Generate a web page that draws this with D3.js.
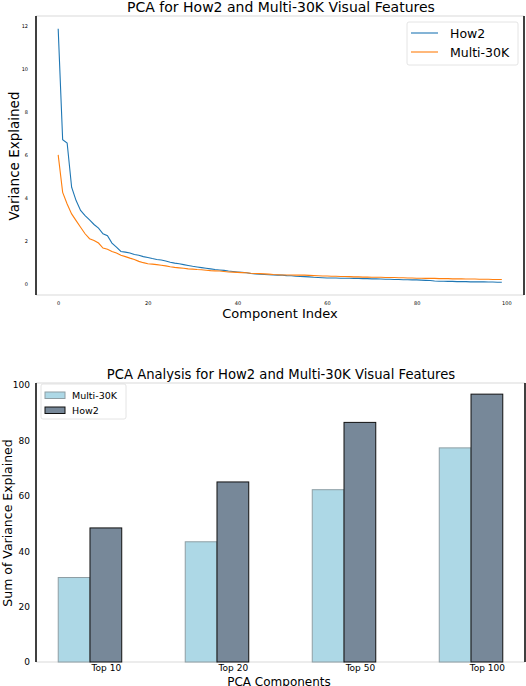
<!DOCTYPE html>
<html>
<head>
<meta charset="utf-8">
<script src="https://cdn.jsdelivr.net/npm/d3@7"></script>
<style>
  body { margin: 0; background: #fff; }
  text { font-family: "DejaVu Sans", sans-serif; fill: #000; }
</style>
</head>
<body>
<div id="chart"></div>
<script>
// line chart data: variance explained per component (index 0..99)
var how2Variance = [
  11.85, 6.70, 6.55, 4.50, 3.88, 3.42, 3.18, 2.98, 2.77, 2.60,
  2.34, 2.25, 1.91, 1.72, 1.52, 1.49, 1.45, 1.38, 1.34, 1.28,
  1.24, 1.19, 1.15, 1.12, 1.08, 1.02, 0.98, 0.95, 0.91, 0.87,
  0.83, 0.80, 0.77, 0.74, 0.71, 0.68, 0.66, 0.64, 0.61, 0.59,
  0.57, 0.55, 0.53, 0.50, 0.48, 0.46, 0.45, 0.44, 0.43, 0.42,
  0.42, 0.40, 0.39, 0.37, 0.36, 0.35, 0.34, 0.32, 0.31, 0.30,
  0.29, 0.29, 0.29, 0.28, 0.28, 0.28, 0.27, 0.27, 0.26, 0.26,
  0.25, 0.25, 0.24, 0.23, 0.23, 0.22, 0.22, 0.21, 0.21, 0.20,
  0.20, 0.19, 0.18, 0.17, 0.15, 0.14, 0.14, 0.13, 0.13, 0.12,
  0.12, 0.12, 0.11, 0.11, 0.11, 0.11, 0.10, 0.10, 0.09, 0.09
];
var multiVariance = [
  6.00, 4.26, 3.72, 3.26, 2.95, 2.64, 2.34, 2.11, 2.03, 1.91,
  1.68, 1.62, 1.52, 1.45, 1.34, 1.28, 1.21, 1.15, 1.06, 1.00,
  0.95, 0.93, 0.91, 0.88, 0.85, 0.81, 0.78, 0.76, 0.74, 0.71,
  0.70, 0.68, 0.67, 0.65, 0.63, 0.62, 0.61, 0.59, 0.57, 0.56,
  0.55, 0.54, 0.53, 0.51, 0.50, 0.49, 0.48, 0.47, 0.45, 0.44,
  0.43, 0.43, 0.43, 0.42, 0.42, 0.42, 0.41, 0.40, 0.39, 0.38,
  0.38, 0.37, 0.37, 0.36, 0.36, 0.35, 0.34, 0.34, 0.33, 0.33,
  0.32, 0.32, 0.32, 0.31, 0.31, 0.31, 0.30, 0.30, 0.29, 0.29,
  0.28, 0.28, 0.27, 0.27, 0.27, 0.26, 0.26, 0.26, 0.25, 0.25,
  0.25, 0.24, 0.24, 0.24, 0.23, 0.23, 0.23, 0.22, 0.22, 0.22
];
var lineXTicks = [0, 20, 40, 60, 80, 100];
var lineYTicks = [0, 2, 4, 6, 8, 10, 12];

// bar chart data: cumulative variance explained
var barCategories = ["Top 10", "Top 20", "Top 50", "Top 100"];
var multiSum = [30.5, 43.4, 62.2, 77.3];
var how2Sum = [48.4, 65.0, 86.5, 96.7];
var barYTicks = [0, 20, 40, 60, 80, 100];

var svgWidth = 526;
var svgHeight = 686;

var svg = d3.select("#chart")
  .append("svg")
  .attr("width", svgWidth)
  .attr("height", svgHeight);

var blue = "#1f77b4";
var orange = "#ff7f0e";

// ---------- top chart ----------
var top1 = {left: 36, right: 524, top: 16, bottom: 295};

var xLine = d3.scaleLinear()
  .domain([-4.95, 103.95])
  .range([top1.left, top1.right]);

var yLine = d3.scaleLinear()
  .domain([-0.5, 12.44])
  .range([top1.bottom, top1.top]);

function spines(box) {
  var g = svg.append("g");
  g.append("line").attr("x1", box.left).attr("x2", box.right)
    .attr("y1", box.top).attr("y2", box.top)
    .attr("stroke", "#ececec").attr("stroke-width", 2);
  g.append("line").attr("x1", box.left).attr("x2", box.right)
    .attr("y1", box.bottom).attr("y2", box.bottom)
    .attr("stroke", "#ececec").attr("stroke-width", 2);
  g.append("line").attr("x1", box.left).attr("x2", box.left)
    .attr("y1", box.top).attr("y2", box.bottom)
    .attr("stroke", "#000").attr("stroke-width", 1.5);
  g.append("line").attr("x1", box.right).attr("x2", box.right)
    .attr("y1", box.top).attr("y2", box.bottom)
    .attr("stroke", "#000").attr("stroke-width", 1.5);
}
spines(top1);

var lineXAxis = d3.axisBottom(xLine).tickValues(lineXTicks).tickSize(0).tickPadding(6);
var lineYAxis = d3.axisLeft(yLine).tickValues(lineYTicks).tickSize(0).tickPadding(8);

var gx1 = svg.append("g")
  .attr("transform", `translate(0, ${top1.bottom})`)
  .call(lineXAxis);
var gy1 = svg.append("g")
  .attr("transform", `translate(${top1.left}, 0)`)
  .call(lineYAxis);
[gx1, gy1].forEach(function(g) {
  g.select(".domain").remove();
  g.selectAll("text")
    .style("font-family", "DejaVu Sans")
    .style("font-size", "5px")
    .attr("fill", "#333");
});

var line = d3.line()
  .x((d, i) => xLine(i))
  .y(d => yLine(d));

svg.append("path")
  .datum(how2Variance)
  .attr("d", line)
  .attr("fill", "none")
  .attr("stroke", blue)
  .attr("stroke-width", 1.1);

svg.append("path")
  .datum(multiVariance)
  .attr("d", line)
  .attr("fill", "none")
  .attr("stroke", orange)
  .attr("stroke-width", 1.1);

svg.append("text")
  .attr("x", 281).attr("y", 12)
  .attr("text-anchor", "middle")
  .style("font-size", "14px")
  .text("PCA for How2 and Multi-30K Visual Features");

svg.append("text")
  .attr("x", 280).attr("y", 318)
  .attr("text-anchor", "middle")
  .style("font-size", "13px")
  .text("Component Index");

svg.append("text")
  .attr("transform", "translate(19, 156) rotate(-90)")
  .attr("text-anchor", "middle")
  .style("font-size", "13.5px")
  .text("Variance Explained");

// legend top
var leg1 = svg.append("g");
leg1.append("rect")
  .attr("x", 407).attr("y", 22).attr("width", 111).attr("height", 43)
  .attr("rx", 2).attr("fill", "#fff")
  .attr("stroke", "#ddd").attr("stroke-width", 0.8);
[["How2", blue], ["Multi-30K", orange]].forEach(function(d, i) {
  var y = 33 + i * 19;
  leg1.append("line")
    .attr("x1", 411).attr("x2", 438).attr("y1", y).attr("y2", y)
    .attr("stroke", d[1]).attr("stroke-width", 1.1);
  leg1.append("text")
    .attr("x", 450).attr("y", y + 4.5)
    .style("font-size", "12.5px")
    .text(d[0]);
});

// ---------- bottom chart ----------
var box2 = {left: 36, right: 525, top: 383, bottom: 662};

var xBar = d3.scaleLinear()
  .domain([-0.425, barCategories.length - 1 + 0.425])
  .range([box2.left, box2.right]);

var yBar = d3.scaleLinear()
  .domain([0, 100])
  .range([box2.bottom, 385]);

var barWidth = 0.25; // in category units
var barPx = xBar(barWidth) - xBar(0);

spines(box2);

svg.selectAll(".multiBar")
  .data(multiSum)
  .enter()
  .append("rect")
  .attr("class", "multiBar")
  .attr("x", (d, i) => xBar(i - barWidth))
  .attr("y", d => yBar(d))
  .attr("width", barPx)
  .attr("height", d => yBar(0) - yBar(d))
  .attr("fill", "#add8e6")
  .attr("stroke", "#8e9ea4")
  .attr("stroke-width", 1);

svg.selectAll(".how2Bar")
  .data(how2Sum)
  .enter()
  .append("rect")
  .attr("class", "how2Bar")
  .attr("x", (d, i) => xBar(i))
  .attr("y", d => yBar(d))
  .attr("width", barPx)
  .attr("height", d => yBar(0) - yBar(d))
  .attr("fill", "#778899")
  .attr("stroke", "#111")
  .attr("stroke-width", 1);

var barXAxis = d3.axisBottom(xBar)
  .tickValues(barCategories.map((d, i) => i + barWidth / 2))
  .tickFormat((d, i) => barCategories[i])
  .tickSize(0).tickPadding(3);
var barYAxis = d3.axisLeft(yBar).tickValues(barYTicks).tickSize(0).tickPadding(6);

var gx2 = svg.append("g")
  .attr("transform", `translate(0, ${box2.bottom})`)
  .call(barXAxis);
var gy2 = svg.append("g")
  .attr("transform", `translate(${box2.left}, 0)`)
  .call(barYAxis);
[gx2, gy2].forEach(function(g) {
  g.select(".domain").remove();
  g.selectAll("text")
    .style("font-family", "DejaVu Sans")
    .style("font-size", "9px")
    .attr("fill", "#000");
});

svg.append("text")
  .attr("x", 281).attr("y", 379)
  .attr("text-anchor", "middle")
  .style("font-size", "13.2px")
  .text("PCA Analysis for How2 and Multi-30K Visual Features");

svg.append("text")
  .attr("x", 279).attr("y", 685.5)
  .attr("text-anchor", "middle")
  .style("font-size", "12px")
  .text("PCA Components");

svg.append("text")
  .attr("transform", "translate(12, 523) rotate(-90)")
  .attr("text-anchor", "middle")
  .style("font-size", "12.5px")
  .text("Sum of Variance Explained");

// legend bottom
var leg2 = svg.append("g");
leg2.append("rect")
  .attr("x", 41).attr("y", 384).attr("width", 85).attr("height", 35)
  .attr("rx", 2).attr("fill", "#fff")
  .attr("stroke", "#ddd").attr("stroke-width", 0.8);
[["Multi-30K", "#add8e6", "#8e9ea4"], ["How2", "#778899", "#111"]].forEach(function(d, i) {
  var y = 392 + i * 15;
  leg2.append("rect")
    .attr("x", 45).attr("y", y).attr("width", 20).attr("height", 6.5)
    .attr("fill", d[1]).attr("stroke", d[2]).attr("stroke-width", 1);
  leg2.append("text")
    .attr("x", 72).attr("y", y + 6.5)
    .style("font-size", "9.5px")
    .text(d[0]);
});
</script>
</body>
</html>
